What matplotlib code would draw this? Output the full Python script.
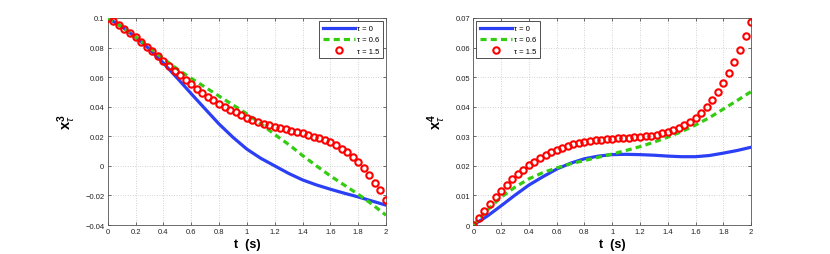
import numpy as np
import matplotlib
matplotlib.use("Agg")
import matplotlib.pyplot as plt

plt.rcParams['font.family'] = ['Liberation Sans', 'DejaVu Sans']
plt.rcParams['mathtext.fontset'] = 'custom'
plt.rcParams['mathtext.rm'] = 'Liberation Sans'
plt.rcParams['mathtext.bf'] = 'Liberation Sans:bold'
plt.rcParams['mathtext.it'] = 'Liberation Sans:italic'

# ---------------- data ----------------
t_line = [0.0, 0.1, 0.2, 0.3, 0.4, 0.5, 0.6, 0.7, 0.8, 0.9, 1.0,
          1.1, 1.2, 1.3, 1.4, 1.5, 1.6, 1.7, 1.8, 1.9, 2.0]
t_mark = [round(0.04 * i, 2) for i in range(51)]

x3_tau0 = [0.1000, 0.0942, 0.0870, 0.0790, 0.0695, 0.0593, 0.0488, 0.0385, 0.0283, 0.0193, 0.0113,
           0.0051, 0.0000, -0.0051, -0.0095, -0.0129, -0.0158, -0.0185, -0.0210, -0.0238, -0.0266]
x3_tau06 = [0.1000, 0.0940, 0.0872, 0.0800, 0.0725, 0.0655, 0.0592, 0.0532, 0.0472, 0.0412, 0.0352,
            0.0285, 0.0212, 0.0145, 0.0070, 0.0000, -0.0068, -0.0130, -0.0192, -0.0260, -0.0334]
x3_tau15 = [0.1000, 0.0980, 0.0955, 0.0928, 0.0899, 0.0869, 0.0838, 0.0806, 0.0775, 0.0741,
            0.0707, 0.0675, 0.0644, 0.0612, 0.0581, 0.0551, 0.0522, 0.0495, 0.0468, 0.0443,
            0.0420, 0.0400, 0.0380, 0.0362, 0.0344, 0.0326, 0.0309, 0.0296, 0.0284, 0.0275,
            0.0264, 0.0255, 0.0246, 0.0237, 0.0228, 0.0219, 0.0210, 0.0198, 0.0189, 0.0176,
            0.0158, 0.0142, 0.0117, 0.0095, 0.0063, 0.0027, -0.0014, -0.0059, -0.0113, -0.0165,
            -0.0228]

x4_tau0 = [0.0000, 0.0030, 0.0065, 0.0101, 0.0135, 0.0163, 0.0189, 0.0209, 0.0224, 0.0233, 0.0238,
           0.0239, 0.0238, 0.0236, 0.0233, 0.0231, 0.0231, 0.0235, 0.0243, 0.0252, 0.0263]
x4_tau06 = [0.0000, 0.0050, 0.0094, 0.0128, 0.0156, 0.0177, 0.0193, 0.0207, 0.0218, 0.0229, 0.0240,
            0.0252, 0.0265, 0.0280, 0.0297, 0.0316, 0.0338, 0.0363, 0.0392, 0.0421, 0.0451]
x4_tau15 = [0.0000, 0.00248, 0.00485, 0.00722, 0.00936, 0.0115, 0.01353, 0.01545, 0.01725, 0.01871,
            0.02018, 0.02142, 0.02255, 0.02368, 0.02458, 0.02537, 0.02616, 0.02683, 0.02728, 0.02773,
            0.02807, 0.02841, 0.02864, 0.02886, 0.02909, 0.0292, 0.02931, 0.02943, 0.02954, 0.02965,
            0.02976, 0.02999, 0.03021, 0.03055, 0.0310, 0.03145, 0.03213, 0.03292, 0.03382, 0.03484,
            0.0363, 0.03799, 0.04002, 0.04239, 0.0451, 0.04814, 0.05152, 0.05524, 0.0593, 0.06381,
            0.06877]

labels = ['τ = 0', 'τ = 0.6', 'τ = 1.5']
xticks = [0, 0.2, 0.4, 0.6, 0.8, 1.0, 1.2, 1.4, 1.6, 1.8, 2.0]
xticklabels = ['0', '0.2', '0.4', '0.6', '0.8', '1', '1.2', '1.4', '1.6', '1.8', '2']
yticks_left = [-0.04, -0.02, 0, 0.02, 0.04, 0.06, 0.08, 0.1]
yticklabels_left = ['\u22120.04', '\u22120.02', '0', '0.02', '0.04', '0.06', '0.08', '0.1']
yticks_right = [0, 0.01, 0.02, 0.03, 0.04, 0.05, 0.06, 0.07]
yticklabels_right = ['0', '0.01', '0.02', '0.03', '0.04', '0.05', '0.06', '0.07']

BLUE = '#2b3ff5'
GREEN = '#33cc11'
RED = '#ff0000'

fig = plt.figure(figsize=(8.3, 2.55), dpi=100)
ax1 = fig.add_axes([0.1298, 0.1137, 0.3353, 0.8118])
ax2 = fig.add_axes([0.5703, 0.1137, 0.3346, 0.8118])


def style(ax, yt, ytl, ylim, ylabel, legloc):
    ax.set_xlim(0, 2)
    ax.set_ylim(*ylim)
    ax.set_xticks(xticks)
    ax.set_xticklabels(xticklabels)
    ax.set_yticks(yt)
    ax.set_yticklabels(ytl)
    ax.tick_params(direction='in', length=2.5, width=0.5, labelsize=5.5,
                   top=True, right=True, pad=2.5, colors='#333333', labelcolor='#222222')
    ax.grid(True, linestyle=(0, (1, 2.5)), color='#aaaaaa', linewidth=0.5)
    for s in ax.spines.values():
        s.set_linewidth(0.6)
        s.set_color('#555555')
    ax.set_xlabel('t  (s)', fontsize=9, fontweight='bold', labelpad=1.5)
    ax.set_ylabel(ylabel, fontsize=10.5, labelpad=5)
    leg = ax.legend(loc=legloc, fontsize=5.5, handlelength=4.2, handletextpad=0.2,
                    borderpad=0.5, labelspacing=0.5, fancybox=False, framealpha=1,
                    borderaxespad=0.4)
    leg.get_frame().set_edgecolor('#333333')
    leg.get_frame().set_linewidth(0.6)


for ax, a, b, c in [(ax1, x3_tau0, x3_tau06, x3_tau15), (ax2, x4_tau0, x4_tau06, x4_tau15)]:
    ax.plot(t_line, a, color=BLUE, lw=2.3, label=labels[0], zorder=3)
    ax.plot(t_line, b, color=GREEN, lw=2.3, dashes=(1.9, 1.3), label=labels[1], zorder=4)
    ax.plot(t_mark, c, linestyle='none', marker='o', markersize=4.6, markerfacecolor='none',
            markeredgecolor=RED, markeredgewidth=1.5, label=labels[2], zorder=5)

style(ax1, yticks_left, yticklabels_left, (-0.04, 0.1), r'$\mathbf{x}^{\mathbf{3}}_{\tau}$', 'upper right')
style(ax2, yticks_right, yticklabels_right, (0, 0.07), r'$\mathbf{x}^{\mathbf{4}}_{\tau}$', 'upper left')

fig.savefig('out.png', dpi=100)
